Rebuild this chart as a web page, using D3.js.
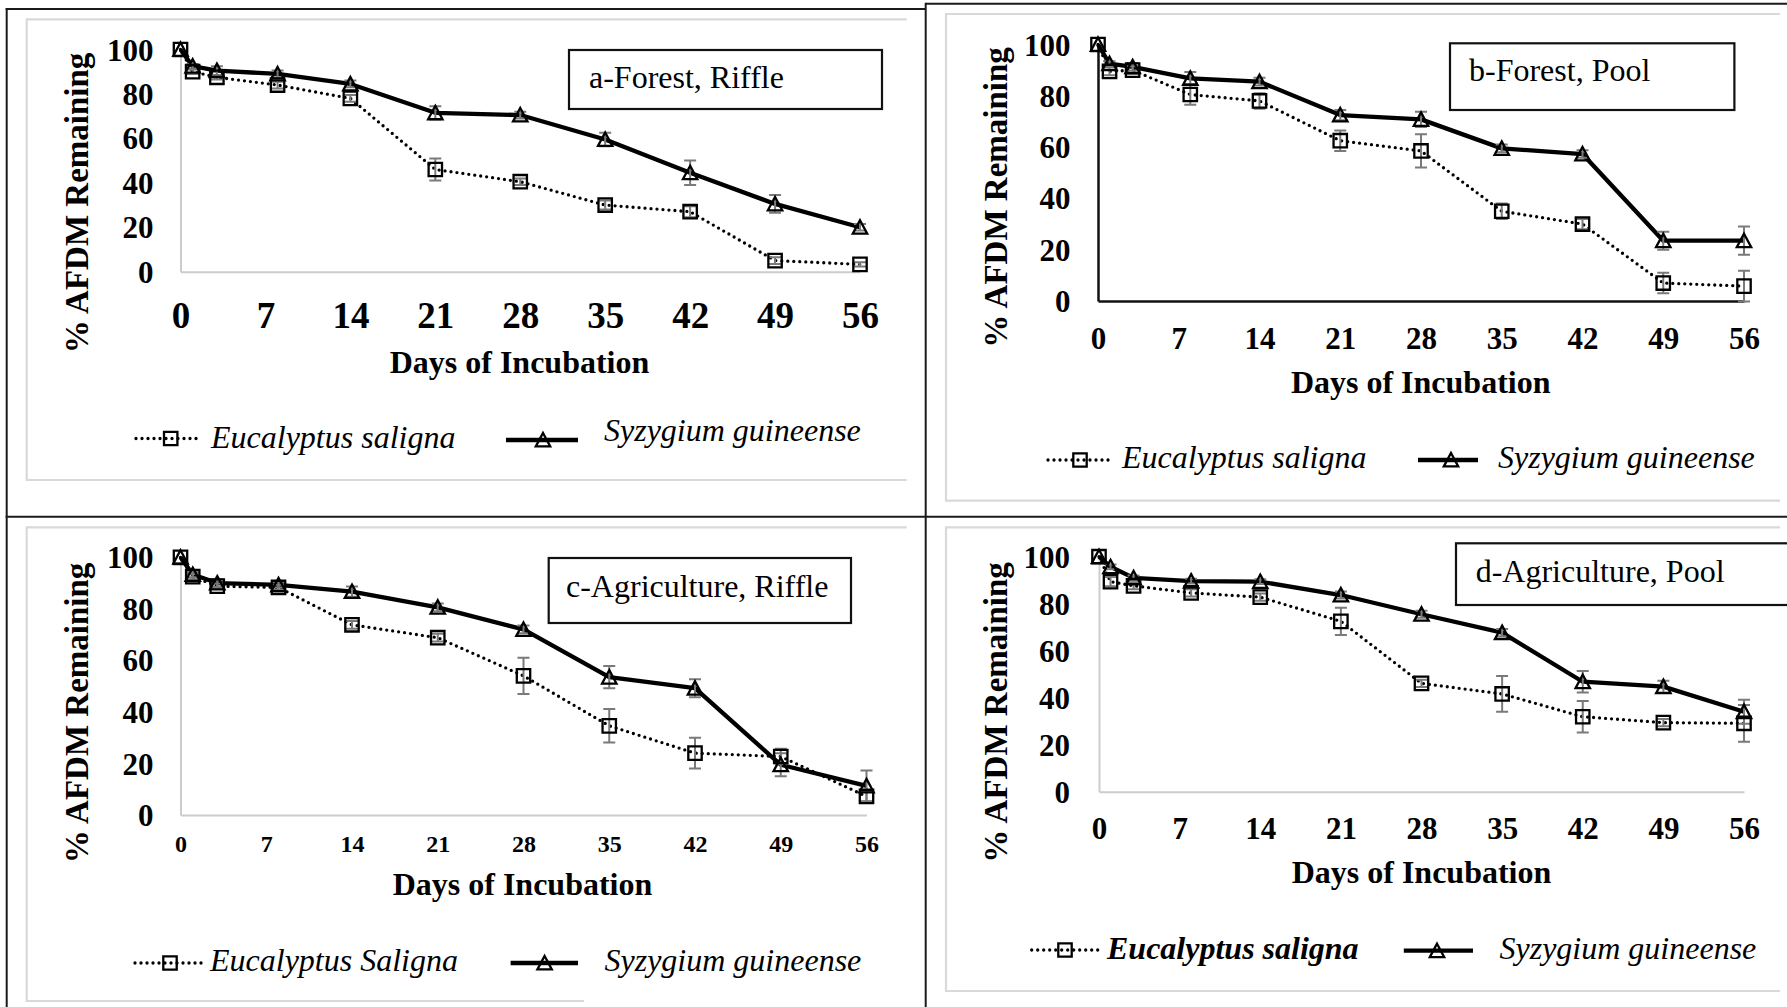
<!DOCTYPE html>
<html>
<head>
<meta charset="utf-8">
<script src="https://cdn.jsdelivr.net/npm/d3@7"></script>
<style>
  html, body { margin: 0; padding: 0; background: #fff; }
  svg { display: block; }
</style>
</head>
<body>
<svg id="fig" width="1787" height="1007"></svg>
<script>
// ---- data ----------------------------------------------------------------
const days = [0, 1, 3, 8, 14, 21, 28, 35, 42, 49, 56];
const xTickDays = [0, 7, 14, 21, 28, 35, 42, 49, 56];
const yTickValues = [0, 20, 40, 60, 80, 100];

const panelTitles = ["a-Forest, Riffle", "b-Forest, Pool", "c-Agriculture, Riffle", "d-Agriculture, Pool"];
const eucalyptusLabels = ["Eucalyptus saligna", "Eucalyptus saligna", "Eucalyptus Saligna", "Eucalyptus saligna"];
const syzygiumLabel = "Syzygium guineense";
const xAxisTitle = "Days of Incubation";
const yAxisTitle = "% AFDM Remaining";

// % AFDM remaining, mean and error per sampling day
const eucForestRiffle    = [100, 90, 87.5, 84, 78, 46, 40.5, 30, 27, 5, 3.3];
const eucForestRiffleErr = [0, 1, 1, 1.5, 1.5, 5, 1.5, 2, 2.5, 1.5, 1];
const syzForestRiffle    = [100, 92.5, 90.5, 89, 84.5, 71.5, 70.5, 59.5, 44.5, 30.5, 20];
const syzForestRiffleErr = [0, 1, 2, 1.5, 1.5, 3, 1.5, 3, 5.5, 4, 1.5];

const eucForestPool    = [100, 89.5, 90, 80.5, 78, 62.5, 58.5, 35, 30, 7, 5.8];
const eucForestPoolErr = [0, 1.5, 1.5, 4, 3, 4, 6.5, 3, 2, 4, 6];
const syzForestPool    = [100, 92.5, 91.3, 86.8, 85.5, 72.5, 70.8, 59.5, 57.3, 23.5, 23.5];
const syzForestPoolErr = [0, 1, 1.5, 2.5, 1.5, 2, 3, 1.5, 1.5, 3.5, 5.5];

const eucAgriRiffle    = [100, 92.5, 88.8, 88.3, 73.8, 68.8, 54, 34.6, 24, 22.7, 7.2];
const eucAgriRiffleErr = [0, 1, 1, 1, 1.5, 1.5, 7, 6.5, 6, 3, 2];
const syzAgriRiffle    = [100, 93.3, 90, 89.3, 86.7, 80.6, 72, 53.5, 49.2, 19.5, 11.3];
const syzAgriRiffleErr = [0, 1, 1.5, 1, 2, 1.5, 1.5, 4.3, 3.5, 4.5, 6];

const eucAgriPool    = [100, 89.4, 87.6, 84.6, 82.8, 72.5, 46.1, 41.6, 31.9, 29.4, 29.1];
const eucAgriPoolErr = [0, 2, 1.5, 1.5, 1.5, 5.8, 1.5, 7.6, 6.7, 1.5, 7.8];
const syzAgriPool    = [100, 95.7, 91, 89.6, 89.4, 83.7, 75.5, 67.7, 46.8, 44.7, 34];
const syzAgriPoolErr = [0, 1, 1, 1, 1, 1.5, 1.5, 1.5, 4.6, 2.5, 5.1];

const panelSeries = [
  { euc: eucForestRiffle, eucErr: eucForestRiffleErr, syz: syzForestRiffle, syzErr: syzForestRiffleErr },
  { euc: eucForestPool,   eucErr: eucForestPoolErr,   syz: syzForestPool,   syzErr: syzForestPoolErr },
  { euc: eucAgriRiffle,   eucErr: eucAgriRiffleErr,   syz: syzAgriRiffle,   syzErr: syzAgriRiffleErr },
  { euc: eucAgriPool,     eucErr: eucAgriPoolErr,     syz: syzAgriPool,     syzErr: syzAgriPoolErr }
];

// ---- layout of the four cells --------------------------------------------
const FONT = "'Liberation Serif', 'Times New Roman', Times, serif";

const layouts = [
  { xr: [180.5, 860], yr: [271.7, 49.5], axisColor: "#cccccc", axisWidth: 2,
    xTickFont: 37, xTickOffset: 43.3, yTickFont: 31, yLabelGap: 27,
    yTitle: [87, 203], xTitle: [519.5, 373],
    frame: { l: 26.7, t: 19.3, r: 906.7, b: 480, rb: 906.7 },
    box: { x: 569, y: 50, w: 313, h: 59, tx: 589, ty: 88 },
    legend: { ey: 438.5, dot: [136, 202], sq: 170.7, et: 211, eb: 448, eBold: false,
              sy: 440, solid: [506, 578], tri: 543, st: 604, sb: 440.7 } },
  { xr: [1098, 1744], yr: [301, 44.5], axisColor: "#111111", axisWidth: 2.5,
    xTickFont: 31, xTickOffset: 37.3, yTickFont: 31, yLabelGap: 27.6,
    yTitle: [1006, 197.5], xTitle: [1420.7, 393],
    frame: { l: 946, t: 14, r: 1780, b: 500.7, rb: 1780 },
    box: { x: 1450, y: 43.3, w: 284.4, h: 66.7, tx: 1469, ty: 81 },
    legend: { ey: 460, dot: [1048, 1113], sq: 1080, et: 1122, eb: 468, eBold: false,
              sy: 460, solid: [1418, 1478], tri: 1451, st: 1498, sb: 467.7 } },
  { xr: [180.5, 866.5], yr: [815, 557.3], axisColor: "#cccccc", axisWidth: 2,
    xTickFont: 24, xTickOffset: 29.3, yTickFont: 31, yLabelGap: 27,
    yTitle: [87, 713], xTitle: [522.5, 895],
    frame: { l: 26.7, t: 527.3, r: 906.7, b: 1001, rb: 584 },
    box: { x: 548.7, y: 558, w: 302.3, h: 65, tx: 566, ty: 597 },
    legend: { ey: 963, dot: [135, 202.5], sq: 170, et: 210, eb: 971, eBold: false,
              sy: 963, solid: [510.6, 578], tri: 544.6, st: 604.5, sb: 971 } },
  { xr: [1099, 1744], yr: [791.7, 556.7], axisColor: "#cccccc", axisWidth: 2,
    xTickFont: 31, xTickOffset: 36.6, yTickFont: 31, yLabelGap: 29,
    yTitle: [1006, 712.5], xTitle: [1421.5, 883],
    frame: { l: 946, t: 527.3, r: 1780, b: 991, rb: 1780 },
    box: { x: 1456, y: 543.3, w: 340, h: 61.7, tx: 1475.7, ty: 581.7 },
    legend: { ey: 950, dot: [1031.7, 1099.7], sq: 1065, et: 1107, eb: 959, eBold: true,
              sy: 950.7, solid: [1403.8, 1473], tri: 1437, st: 1499.5, sb: 959 } }
];

const svg = d3.select("#fig");
svg.append("rect").attr("width", 1787).attr("height", 1007).attr("fill", "#fff");

// marker shapes
const squarePath = "M-6.7,-6.7H6.7V6.7H-6.7Z";
const trianglePath = "M0,-7L7.2,6.4H-7.2Z";

function dotted(sel) {
  return sel.attr("fill", "none").attr("stroke", "#000").attr("stroke-width", 3.3)
    .attr("stroke-linecap", "round").attr("stroke-dasharray", "0 6");
}
function solid(sel) {
  return sel.attr("fill", "none").attr("stroke", "#000").attr("stroke-width", 4.3)
    .attr("stroke-linejoin", "round");
}
function marker(sel, path) {
  return sel.attr("d", path).attr("fill", "none").attr("stroke", "#000").attr("stroke-width", 2.3);
}

// ---- chart frames (light grey, right edge cut off) ------------------------
layouts.forEach(L => {
  const f = L.frame;
  svg.append("path")
    .attr("d", `M${f.r},${f.t}H${f.l}V${f.b}H${f.rb}`)
    .attr("fill", "none").attr("stroke", "#d9d9d9").attr("stroke-width", 2.2);
});

// ---- each panel -----------------------------------------------------------
layouts.forEach((L, i) => {
  const S = panelSeries[i];
  const g = svg.append("g");
  const x = d3.scaleLinear().domain([0, 56]).range(L.xr);
  const y = d3.scaleLinear().domain([0, 100]).range(L.yr);

  // axes
  const yAx = g.append("g").attr("transform", `translate(${L.xr[0]},0)`)
    .call(d3.axisLeft(y).tickValues(yTickValues).tickSize(0).tickSizeOuter(0).tickPadding(L.yLabelGap));
  yAx.select(".domain").attr("stroke", L.axisColor).attr("stroke-width", L.axisWidth);
  yAx.selectAll("text").attr("font-family", FONT).attr("font-weight", "bold")
    .attr("font-size", L.yTickFont).attr("fill", "#000").attr("dy", "0.34em");
  yAx.attr("font-family", null).attr("font-size", null);

  const xAx = g.append("g").attr("transform", `translate(0,${L.yr[0]})`)
    .call(d3.axisBottom(x).tickValues(xTickDays).tickSize(0).tickSizeOuter(0));
  xAx.select(".domain").attr("stroke", L.axisColor).attr("stroke-width", L.axisWidth);
  xAx.selectAll("text").attr("font-family", FONT).attr("font-weight", "bold")
    .attr("font-size", L.xTickFont).attr("fill", "#000")
    .attr("y", L.xTickOffset).attr("dy", "0.34em");
  xAx.attr("font-family", null).attr("font-size", null);

  // axis titles
  g.append("text").attr("x", L.xTitle[0]).attr("y", L.xTitle[1])
    .attr("text-anchor", "middle").attr("font-family", FONT).attr("font-weight", "bold")
    .attr("font-size", 32).text(xAxisTitle);
  g.append("text")
    .attr("transform", `translate(${L.yTitle[0] + 1},${L.yTitle[1]}) rotate(-90)`)
    .attr("text-anchor", "middle").attr("font-family", FONT).attr("font-weight", "bold")
    .attr("font-size", 33).text(yAxisTitle);

  // series lines
  const line = vals => d3.line().x((d, k) => x(days[k])).y(d => y(d))(vals);
  dotted(g.append("path").attr("d", line(S.euc)));
  solid(g.append("path").attr("d", line(S.syz)));

  // error bars
  const bars = [];
  days.forEach((d, k) => {
    if (S.eucErr[k] > 0) bars.push({ d, v: S.euc[k], e: S.eucErr[k] });
    if (S.syzErr[k] > 0) bars.push({ d, v: S.syz[k], e: S.syzErr[k] });
  });
  g.append("g").selectAll("path").data(bars).join("path")
    .attr("d", b => {
      const cx = x(b.d), y1 = y(b.v + b.e), y2 = y(b.v - b.e);
      return `M${cx},${y1}V${y2}M${cx - 6},${y1}H${cx + 6}M${cx - 6},${y2}H${cx + 6}`;
    })
    .attr("fill", "none").attr("stroke", "#7a7a7a").attr("stroke-width", 2);

  // markers
  g.append("g").selectAll("path").data(S.euc).join("path")
    .attr("transform", (d, k) => `translate(${x(days[k])},${y(d)})`)
    .call(marker, squarePath);
  g.append("g").selectAll("path").data(S.syz).join("path")
    .attr("transform", (d, k) => `translate(${x(days[k])},${y(d)})`)
    .call(marker, trianglePath);

  // panel title box
  const B = L.box;
  g.append("rect").attr("x", B.x).attr("y", B.y).attr("width", B.w).attr("height", B.h)
    .attr("fill", "#fff").attr("stroke", "#111").attr("stroke-width", 2.2);
  g.append("text").attr("x", B.tx).attr("y", B.ty).attr("font-family", FONT)
    .attr("font-size", 32).text(panelTitles[i]);

  // legend
  const lg = L.legend;
  dotted(g.append("path").attr("d", `M${lg.dot[0]},${lg.ey}H${lg.dot[1]}`));
  g.append("path").attr("transform", `translate(${lg.sq},${lg.ey})`).call(marker, squarePath);
  g.append("text").attr("x", lg.et).attr("y", lg.eb).attr("font-family", FONT)
    .attr("font-style", "italic").attr("font-weight", lg.eBold ? "bold" : "normal")
    .attr("font-size", 32).text(eucalyptusLabels[i]);
  solid(g.append("path").attr("d", `M${lg.solid[0]},${lg.sy}H${lg.solid[1]}`));
  g.append("path").attr("transform", `translate(${lg.tri},${lg.sy})`).call(marker, trianglePath);
  g.append("text").attr("x", lg.st).attr("y", lg.sb).attr("font-family", FONT)
    .attr("font-style", "italic").attr("font-size", 32).text(syzygiumLabel);
});

// ---- table rules separating the four cells --------------------------------
const rules = [
  "M5.7,9H926",
  "M925.7,3.7H1787",
  "M6.7,8V1007",
  "M925.7,2.7V1007",
  "M5.7,516.7H1787"
];
svg.append("g").selectAll("path").data(rules).join("path")
  .attr("d", d => d).attr("fill", "none").attr("stroke", "#1a1a1a").attr("stroke-width", 2);
</script>
</body>
</html>
